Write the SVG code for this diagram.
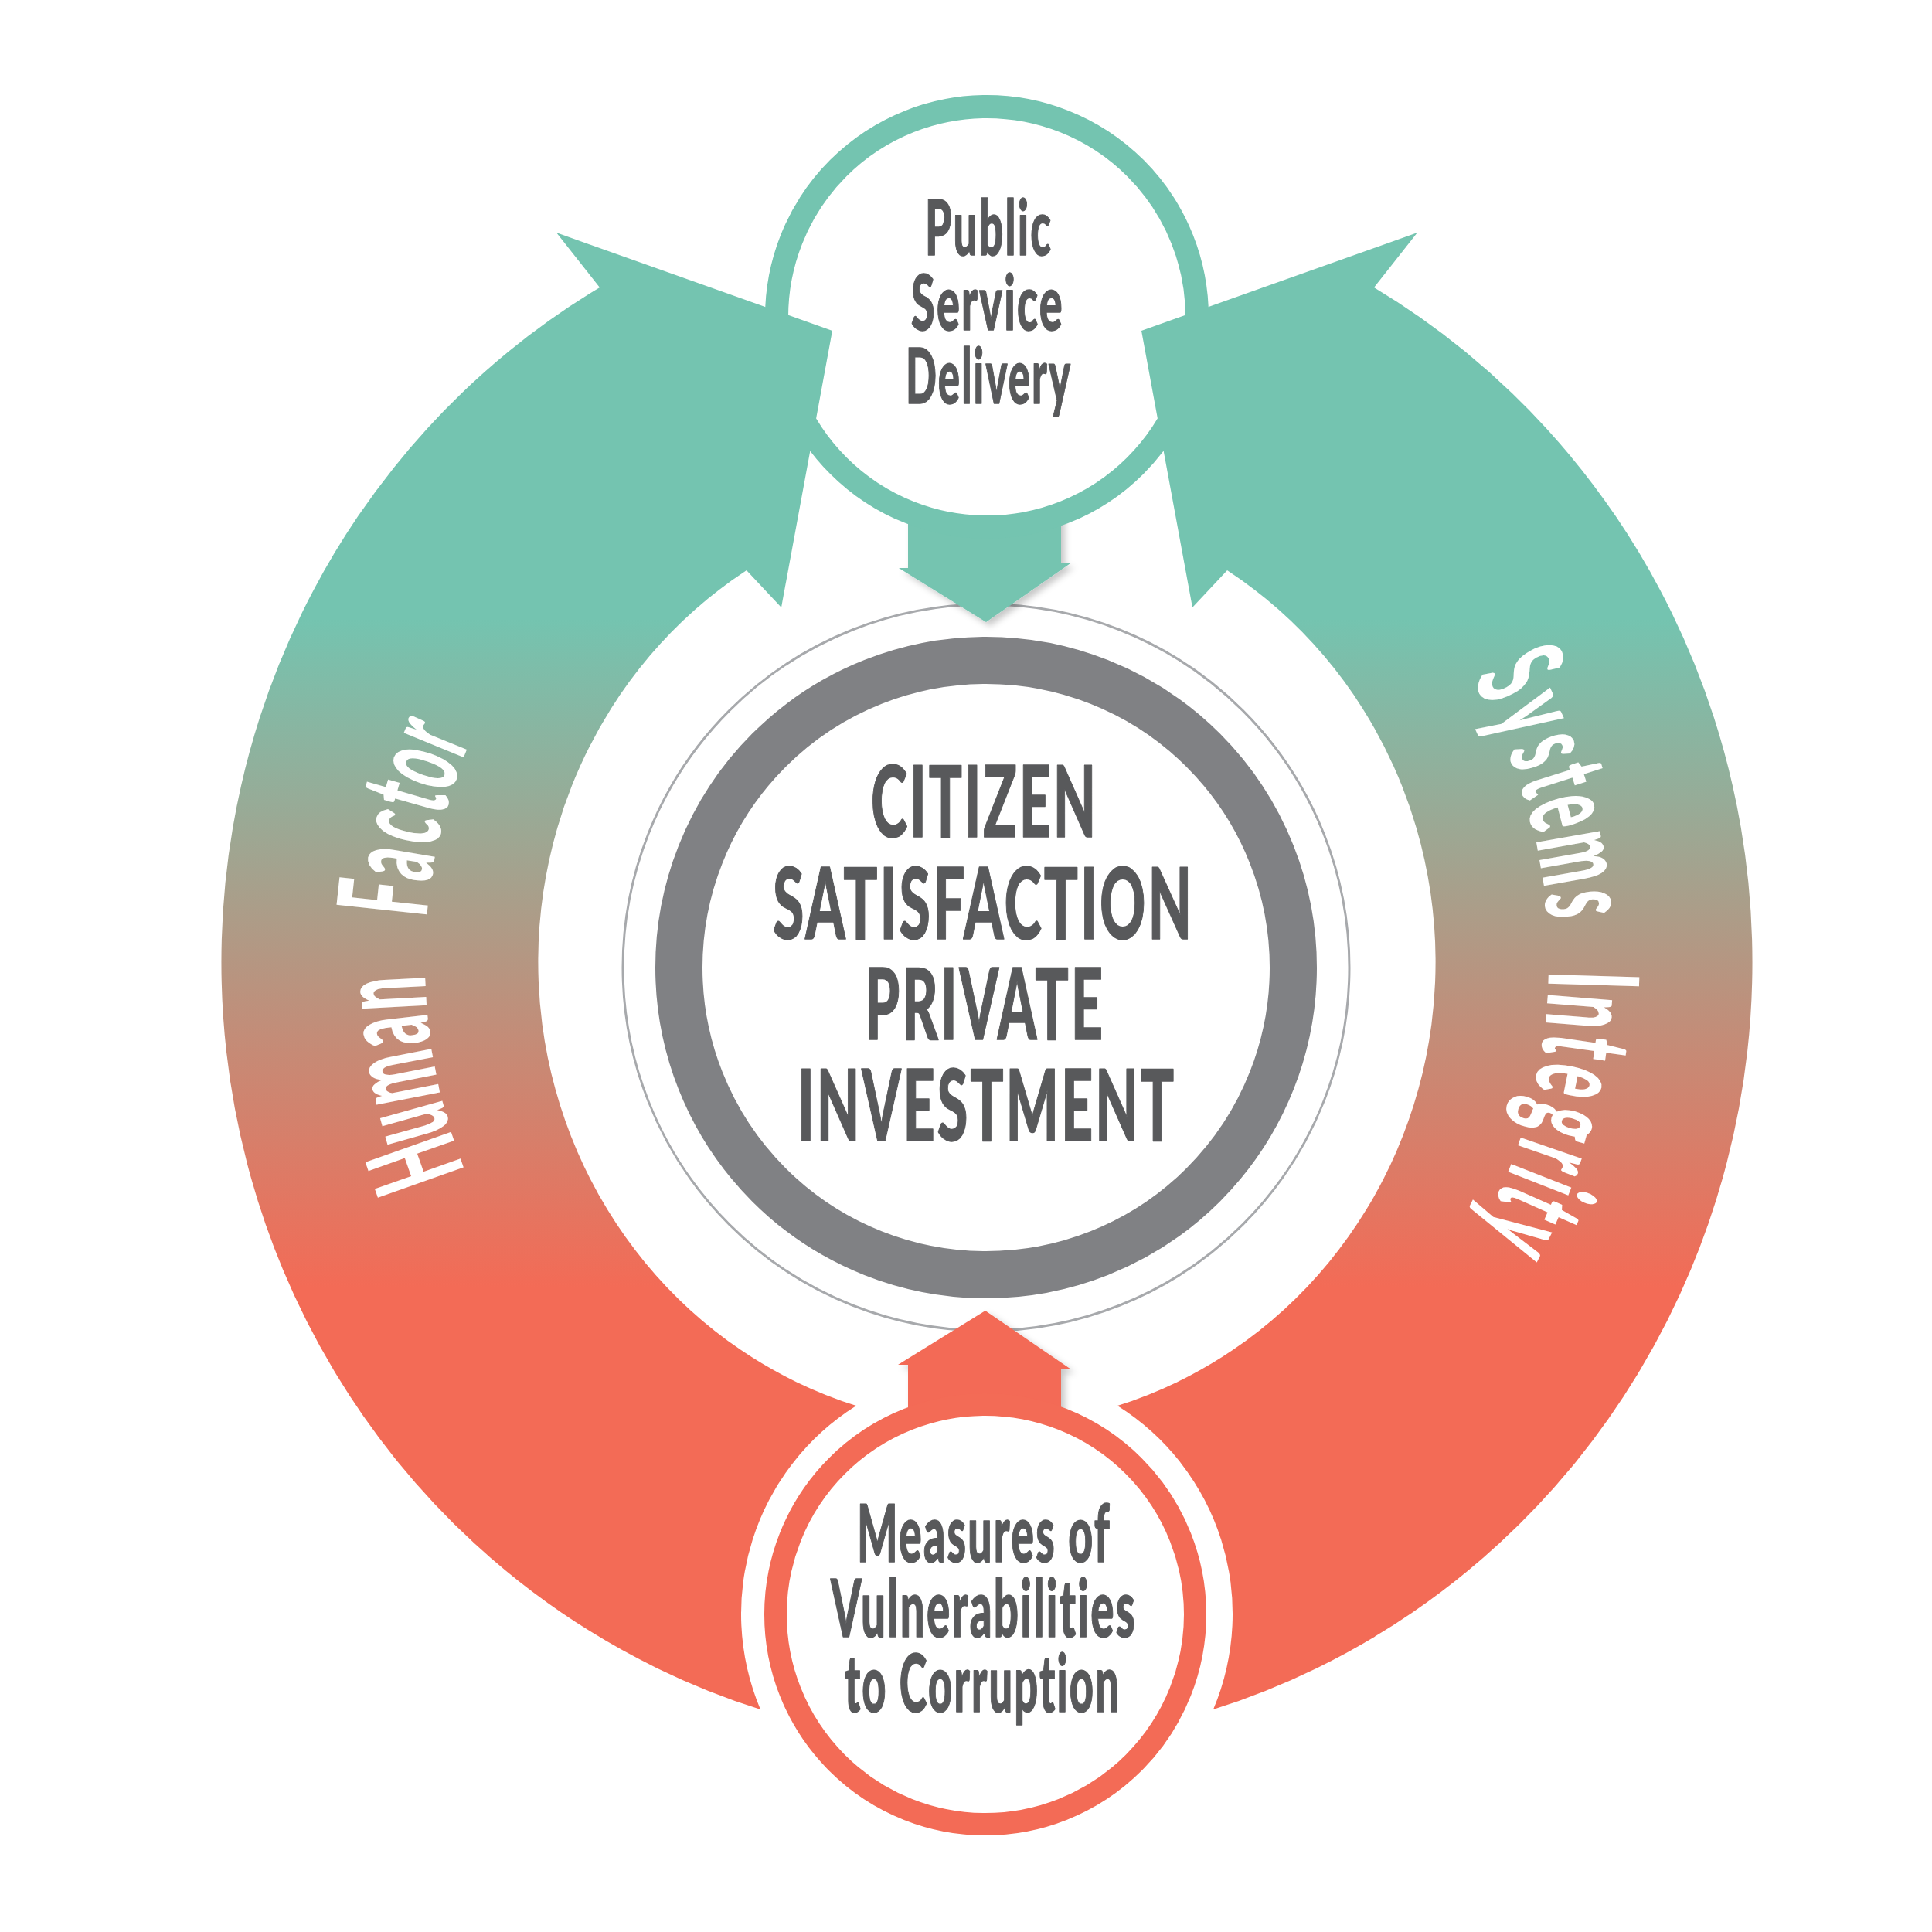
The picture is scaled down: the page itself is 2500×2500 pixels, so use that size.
<svg xmlns="http://www.w3.org/2000/svg" width="2500" height="2500" viewBox="0 0 2500 2500">
<defs>
<style>
.lbl{font-family:Lato,"Liberation Sans",Arial,sans-serif;font-weight:900;fill:#58595B;stroke:#58595B;stroke-width:1.5;stroke-linejoin:round;letter-spacing:0.04em}
.side{font-family:Lato,"Liberation Sans",Arial,sans-serif;font-weight:900;fill:#FFFFFF;font-size:162px;text-anchor:middle}
.teal{fill:#74C4B0}
.red{fill:#F36B56}
.band{fill:url(#bandGrad)}
</style>
<linearGradient id="bandGrad" gradientUnits="userSpaceOnUse" x1="0" y1="800" x2="0" y2="1665">
<stop offset="0" stop-color="#74C4B0"/>
<stop offset="1" stop-color="#F36B56"/>
</linearGradient>
<filter id="sh" x="-20%" y="-20%" width="140%" height="140%">
<feDropShadow dx="5" dy="5" stdDeviation="4" flood-color="#000000" flood-opacity="0.22"/>
</filter>
</defs>
<rect width="2500" height="2500" fill="#FFFFFF"/>

<g id="center">
<circle cx="1276" cy="1252" r="470" fill="none" stroke="#A7A9AC" stroke-width="3"/>
<circle cx="1276" cy="1252" r="397.5" fill="none" stroke="#808184" stroke-width="61"/>
<text class="lbl" font-size="127"><tspan x="1127" y="1083" textLength="294" lengthAdjust="spacingAndGlyphs">CITIZEN</tspan><tspan x="1000" y="1215" textLength="545" lengthAdjust="spacingAndGlyphs">SATISFACTION</tspan><tspan x="1119" y="1345" textLength="311" lengthAdjust="spacingAndGlyphs">PRIVATE</tspan><tspan x="1032" y="1476" textLength="490" lengthAdjust="spacingAndGlyphs">INVESTMENT</tspan></text>
</g>

<g id="connectors">
<polygon class="teal" filter="url(#sh)" points="1175,640 1373,640 1373,729 1385,729 1276,805 1163,735 1175,735"/>
<polygon class="red" filter="url(#sh)" points="1275,1696 1386,1772 1373,1772 1373,1860 1175,1860 1175,1766 1162,1766"/>
</g>

<g id="public-service">
<circle cx="1277" cy="410" r="272" fill="#FFFFFF" stroke="#74C4B0" stroke-width="30"/>
<text class="lbl" font-size="99"><tspan x="1197" y="330" textLength="165" lengthAdjust="spacingAndGlyphs">Public</tspan><tspan x="1179" y="427" textLength="198" lengthAdjust="spacingAndGlyphs">Service</tspan><tspan x="1172" y="522" textLength="215" lengthAdjust="spacingAndGlyphs">Delivery</tspan></text>
</g>

<g id="measures">
<circle cx="1275" cy="2089" r="271.5" fill="#FFFFFF" stroke="#F36B56" stroke-width="29"/>
<text class="lbl" font-size="102"><tspan x="1109" y="2021" textLength="329" lengthAdjust="spacingAndGlyphs">Measures of</tspan><tspan x="1075" y="2118" textLength="396" lengthAdjust="spacingAndGlyphs">Vulnerabilities</tspan><tspan x="1093" y="2215" textLength="357" lengthAdjust="spacingAndGlyphs">to Corruption</tspan></text>
</g>

<g id="human-factor">
<path class="band" d="M 984 2212 A 990 1012 0 0 1 776 372 L 720 301 L 1077 428 L 1011 786 L 966 738 A 580 600 0 0 0 1108 1819 A 318 318 0 0 0 984 2212 Z"/>
<g class="side">
<text transform="translate(591.65,1487.56) rotate(250.51) scale(0.48,1)">H</text>
<text transform="translate(577.02,1441.35) rotate(254.33) scale(0.48,1)">u</text>
<text transform="translate(563.72,1385.59) rotate(258.85) scale(0.48,1)">m</text>
<text transform="translate(554.86,1328.94) rotate(263.37) scale(0.48,1)">a</text>
<text transform="translate(551.0,1283.17) rotate(266.99) scale(0.48,1)">n</text>
<text transform="translate(554.14,1167.49) rotate(276.12) scale(0.48,1)">F</text>
<text transform="translate(560.08,1124.38) rotate(279.55) scale(0.48,1)">a</text>
<text transform="translate(568.89,1080.36) rotate(283.09) scale(0.48,1)">c</text>
<text transform="translate(578.23,1044.37) rotate(286.02) scale(0.48,1)">t</text>
<text transform="translate(589.81,1007.71) rotate(289.05) scale(0.48,1)">o</text>
<text transform="translate(603.85,970.43) rotate(292.19) scale(0.48,1)">r</text>
</g>
</g>

<g id="systems-integrity">
<path class="band" d="M 1570 2212 A 990 1012 0 0 0 1778 372 L 1834 301 L 1477 428 L 1543 786 L 1588 738 A 580 600 0 0 1 1446 1819 A 318 318 0 0 1 1570 2212 Z"/>
<g class="side">
<text transform="translate(1915.96,898.21) rotate(61.51) scale(0.5,1)">S</text>
<text transform="translate(1938.75,943.98) rotate(65.54) scale(0.5,1)">y</text>
<text transform="translate(1956.93,987.67) rotate(69.27) scale(0.48,1)">s</text>
<text transform="translate(1969.58,1023.97) rotate(72.30) scale(0.48,1)">t</text>
<text transform="translate(1980.59,1061.99) rotate(75.42) scale(0.48,1)">e</text>
<text transform="translate(1992.85,1118.12) rotate(79.95) scale(0.48,1)">m</text>
<text transform="translate(2000.52,1173.93) rotate(84.39) scale(0.48,1)">s</text>
<text transform="translate(2003.67,1266.69) rotate(91.71) scale(0.48,1)">I</text>
<text transform="translate(2001.51,1305.07) rotate(94.74) scale(0.48,1)">n</text>
<text transform="translate(1996.72,1347.56) rotate(98.11) scale(0.48,1)">t</text>
<text transform="translate(1989.45,1389.70) rotate(101.48) scale(0.48,1)">e</text>
<text transform="translate(1977.49,1439.53) rotate(105.52) scale(0.48,1)">g</text>
<text transform="translate(1964.39,1481.69) rotate(109.00) scale(0.48,1)">r</text>
<text transform="translate(1953.52,1511.19) rotate(111.48) scale(0.48,1)">i</text>
<text transform="translate(1942.02,1538.73) rotate(113.83) scale(0.48,1)">t</text>
<text transform="translate(1924.25,1576.05) rotate(117.09) scale(0.5,1)">y</text>
</g>
</g>
</svg>
